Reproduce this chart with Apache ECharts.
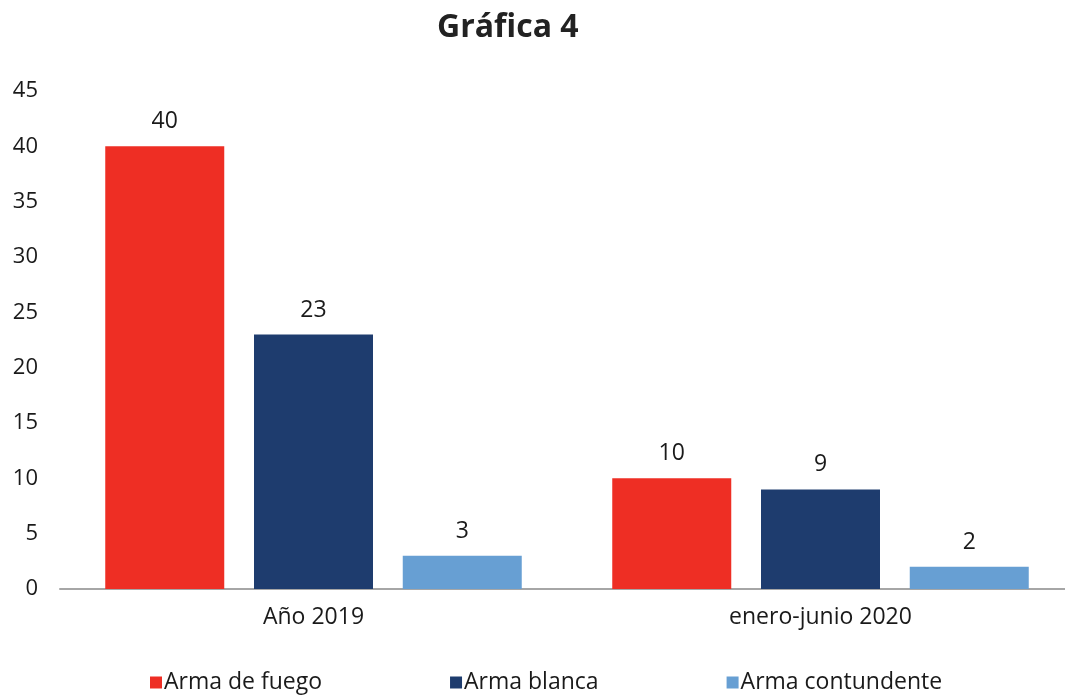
<!DOCTYPE html>
<html>
<head>
<meta charset="utf-8">
<script src="https://cdn.jsdelivr.net/npm/echarts@6/dist/echarts.min.js"></script>
<style>
  html, body { margin: 0; padding: 0; background: #fff; }
  #chart { width: 1065px; height: 696px; }
</style>
</head>
<body>
<div id="chart"></div>
<script>
// datos
const categories = ['Año 2019', 'enero-junio 2020']
const seriesNames = ['Arma de fuego', 'Arma blanca', 'Arma contundente']
const armaFuego = [40, 10]
const armaBlanca = [23, 9]
const armaContundente = [3, 2]
const colors = ['#EE2E24', '#1E3C6E', '#679FD3']

const font = '"Open Sans", "Noto Sans", sans-serif'
const myChart = echarts.init(document.getElementById('chart'))

const mkSeries = (name, data, idx) => ({
    name,
    type: 'bar',
    data,
    barWidth: 119,
    barGap: '25%',
    itemStyle: { color: colors[idx] },
    label: {
        show: true,
        position: 'top',
        distance: 13,
        color: '#1a1a1a',
        fontSize: 23,
        fontFamily: font
    }
})

const option = {
    animation: false,
    title: {
        text: 'Gráfica 4',
        left: 432,
        top: 7,
        textStyle: { fontSize: 32, fontWeight: 'bold', color: '#222', fontFamily: font }
    },
    legend: {
        bottom: -3,
        left: 145,
        itemGap: 128,
        itemWidth: 12,
        itemHeight: 12,
        icon: 'rect',
        textStyle: { fontSize: 23, color: '#1a1a1a', fontFamily: font, padding: [0, 0, 0, -3] },
        data: seriesNames
    },
    // el eje sigue más allá del borde derecho
    grid: { left: 60, right: -9, top: 91, bottom: 107, outerBoundsMode: 'none', containLabel: false },
    xAxis: {
        type: 'category',
        data: categories,
        axisLine: { lineStyle: { color: '#A6A6A6', width: 2 } },
        axisTick: { show: false },
        axisLabel: { color: '#1a1a1a', fontSize: 23, fontFamily: font, margin: 17 }
    },
    yAxis: {
        type: 'value',
        min: 0,
        max: 45,
        interval: 5,
        splitLine: { show: false },
        axisLine: { show: false },
        axisTick: { show: false },
        axisLabel: { color: '#1a1a1a', fontSize: 22, fontFamily: font, margin: 22 }
    },
    series: [
        mkSeries(seriesNames[0], armaFuego, 0),
        mkSeries(seriesNames[1], armaBlanca, 1),
        mkSeries(seriesNames[2], armaContundente, 2)
    ]
}
myChart.setOption(option)
</script>
</body>
</html>
